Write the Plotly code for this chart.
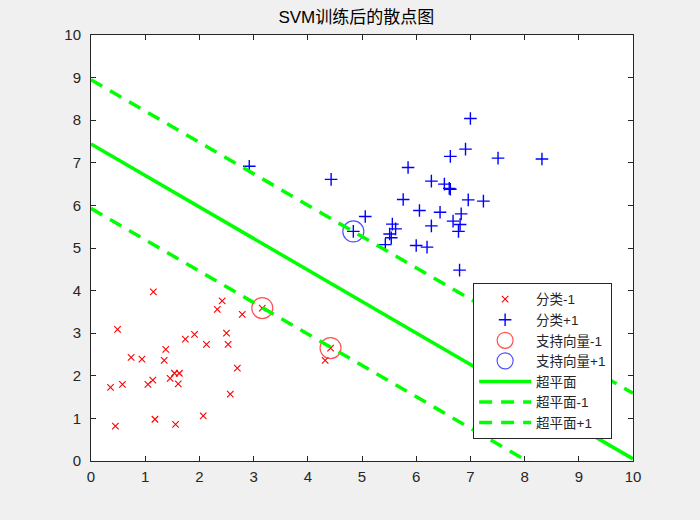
import plotly.graph_objects as go

# ---- data ----
neg_x = [1.15, 0.49, 0.74, 0.94, 1.38, 1.35, 1.74, 1.91, 2.13, 0.36, 0.58, 1.05, 1.14, 1.46,
         1.54, 1.63, 1.61, 0.45, 1.18, 1.56, 2.07, 2.42, 2.33, 2.79, 3.16, 2.50, 2.53, 2.70,
         2.57, 4.42, 4.32]
neg_y = [3.97, 3.09, 2.43, 2.39, 2.62, 2.36, 2.86, 2.97, 2.74, 1.73, 1.80, 1.80, 1.90, 1.94,
         2.06, 2.06, 1.81, 0.82, 0.98, 0.86, 1.06, 3.76, 3.56, 3.44, 3.59, 3.00, 2.74, 2.18,
         1.57, 2.65, 2.36]

pos_x = [2.92, 4.43, 4.84, 5.06, 5.56, 5.62, 5.51, 5.54, 5.43, 5.85, 5.76, 6.06, 6.28, 6.28,
         6.00, 6.20, 6.44, 6.52, 6.61, 6.63, 6.63, 6.91, 7.00, 7.51, 6.96, 7.24, 6.83, 6.68,
         6.81, 6.78, 6.80, 8.32]
pos_y = [6.92, 6.61, 5.39, 5.74, 5.56, 5.45, 5.33, 5.24, 5.08, 6.89, 6.14, 5.88, 6.57, 5.52,
         5.06, 5.02, 5.84, 6.50, 6.40, 6.38, 7.15, 7.32, 8.04, 7.11, 6.13, 6.10, 5.80, 5.63,
         5.55, 5.39, 4.48, 7.09]

sv_neg_x = [3.16, 4.42]
sv_neg_y = [3.59, 2.65]
sv_pos_x = [4.84]
sv_pos_y = [5.39]

line_x = [0, 10]
hyper_y = [7.44, 0.05]
hyper_neg_y = [5.93, -1.44]
hyper_pos_y = [8.95, 1.59]

title = "SVM训练后的散点图"
labels = ["分类-1", "分类+1", "支持向量-1", "支持向量+1", "超平面", "超平面-1", "超平面+1"]
ticks = list(range(0, 11))

FONT = "Liberation Sans, Arial, Noto Sans CJK SC, sans-serif"
GREEN = "rgb(0,255,0)"

fig = go.Figure()
fig.add_trace(go.Scatter(x=neg_x, y=neg_y, mode="markers", name=labels[0],
                         marker=dict(symbol="x-thin", size=6.5, color="red",
                                     line=dict(width=1.1, color="red"))))
fig.add_trace(go.Scatter(x=pos_x, y=pos_y, mode="markers", name=labels[1],
                         marker=dict(symbol="cross-thin", size=9, color="blue",
                                     line=dict(width=1.4, color="blue"))))
fig.add_trace(go.Scatter(x=sv_neg_x, y=sv_neg_y, mode="markers", name=labels[2],
                         marker=dict(symbol="circle-open", size=21, color="rgba(255,40,40,0.8)",
                                     line=dict(width=1.2))))
fig.add_trace(go.Scatter(x=sv_pos_x, y=sv_pos_y, mode="markers", name=labels[3],
                         marker=dict(symbol="circle-open", size=21, color="rgba(40,40,255,0.8)",
                                     line=dict(width=1.2))))
fig.add_trace(go.Scatter(x=line_x, y=hyper_y, mode="lines", name=labels[4],
                         line=dict(color=GREEN, width=3.5)))
fig.add_trace(go.Scatter(x=line_x, y=hyper_neg_y, mode="lines", name=labels[5],
                         line=dict(color=GREEN, width=3.5, dash="13px,9px")))
fig.add_trace(go.Scatter(x=line_x, y=hyper_pos_y, mode="lines", name=labels[6],
                         line=dict(color=GREEN, width=3.5, dash="13px,9px")))

axis_common = dict(range=[0, 10], tickvals=ticks, ticks="inside", ticklen=5,
                   tickcolor="#262626", showline=True, linecolor="#262626", linewidth=1,
                   mirror="ticks", showgrid=False, zeroline=False,
                   tickfont=dict(family=FONT, size=15, color="#262626"))

fig.update_layout(
    width=700, height=520,
    margin=dict(l=91, r=67, t=35, b=59),
    paper_bgcolor="#f0f0f0", plot_bgcolor="white",
    title=dict(text=title, x=0.509, xanchor="center", y=0.978, yanchor="top",
               font=dict(family=FONT, size=17, color="black")),
    xaxis=dict(**axis_common, ticklabelstandoff=2),
    yaxis=dict(**axis_common, ticklabelstandoff=6),
    legend=dict(x=0.705, y=0.418, xanchor="left", yanchor="top",
                bgcolor="white", bordercolor="#262626", borderwidth=1,
                font=dict(family=FONT, size=13.5, color="#262626"),
                itemwidth=52, tracegroupgap=0),
    showlegend=True,
)

fig.write_html("out.html", config={"displayModeBar": False},
               post_script="document.body.style.margin='0px';document.body.style.background='#f0f0f0';")
